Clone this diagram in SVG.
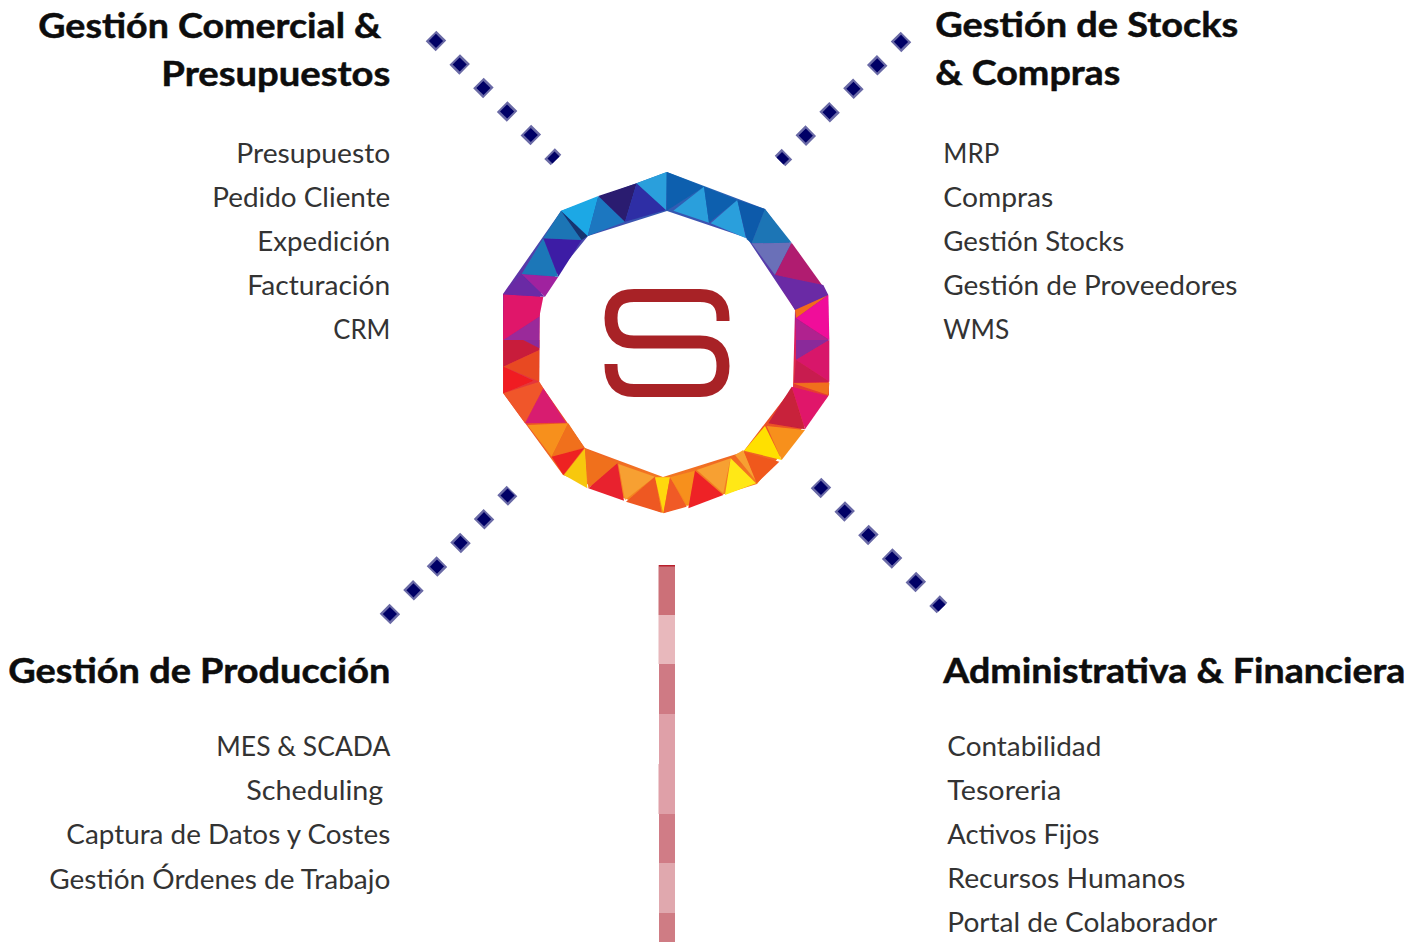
<svg xmlns="http://www.w3.org/2000/svg" width="1424" height="942" viewBox="0 0 1424 942">
<style>
text{font-family:"Lato","Liberation Sans",sans-serif;fill:#333}
.i{font-size:27px;font-weight:400}
.h{font-size:35px;font-weight:700;fill:#0d0d0d;stroke:#0d0d0d;stroke-width:.5}
.d1{fill:none;stroke:#6a6aa6;stroke-width:15;stroke-dasharray:14 19.4}
.d2{fill:none;stroke:#000066;stroke-width:10;stroke-dasharray:10 23.4;stroke-dashoffset:-2}
</style>
<defs>
<linearGradient id="ringFill" gradientUnits="userSpaceOnUse" x1="0" y1="172" x2="0" y2="513">
<stop offset="0" stop-color="#1a70b8"/><stop offset=".35" stop-color="#6a2aa5"/><stop offset=".47" stop-color="#d8186a"/><stop offset=".67" stop-color="#e8402a"/><stop offset="1" stop-color="#f7901e"/>
</linearGradient>
<filter id="soft" x="-5%" y="-5%" width="110%" height="110%"><feGaussianBlur stdDeviation=".6"/></filter>
<filter id="softDots" x="-10%" y="-10%" width="120%" height="120%"><feGaussianBlur stdDeviation=".5"/></filter>
</defs>
<rect width="1424" height="942" fill="#fff"/>
<g id="connectors">
<g filter="url(#softDots)">
<path class="d1" d="M431 36L556 160"/><path class="d2" d="M431 36L556 160"/>
<path class="d1" d="M906 37L780 161"/><path class="d2" d="M906 37L780 161"/>
<path class="d1" d="M385 619L512 491"/><path class="d2" d="M385 619L512 491"/>
<path class="d1" d="M816 483L942 608"/><path class="d2" d="M816 483L942 608"/>
</g>
<g id="vertical-bar">
<rect x="658.500" y="565" width="16.500" height="50" fill="#cc7078"/>
<rect x="658.500" y="615" width="16.500" height="49" fill="#e8b8bc"/>
<rect x="659" y="664" width="16" height="50" fill="#cf7a84"/>
<rect x="659" y="714" width="16" height="50" fill="#dfa0a8"/>
<rect x="658.500" y="764" width="16.500" height="50" fill="#dfa0a8"/>
<rect x="659" y="814" width="16" height="49" fill="#d07c86"/>
<rect x="659" y="863" width="16" height="50" fill="#e0a8ae"/>
<rect x="659" y="913" width="16" height="29" fill="#cf7c84"/>
<rect x="659" y="565" width="16" height="1.500" fill="#b8202c"/>
</g>
</g>
<g id="logo">
<g filter="url(#soft)">
<path fill-rule="evenodd" fill="url(#ringFill)" d="M667 172L765 209L828 295L829 395L757 484L663 513L563 475L503 393L503 294L561 211ZM667 211L588 236L540 295L539 382L585 448L663 477L743 452L793 387L795 310L747 238Z"/>
<g transform="translate(490 160) scale(.33333)">
<polygon points="40,403 160,410 148,470 40,540" fill="#e0156b"/>
<polygon points="40,540 148,470 148,540" fill="#9a2a9a"/>
<polygon points="40,403 95,342 165,410" fill="#6a2aa5"/>
<polygon points="95,342 205,350 165,410" fill="#a0229f"/>
<polygon points="95,342 160,235 205,350" fill="#1f77b8"/>
<polygon points="160,235 275,240 205,350" fill="#3d1fa5"/>
<polygon points="213,152 275,240 160,235" fill="#1b75b5"/>
<polygon points="213,152 293,228 275,240" fill="#12356f"/>
<polygon points="213,152 325,108 293,228" fill="#1aa8e5"/>
<polygon points="325,108 405,185 293,228" fill="#1b77c0"/>
<polygon points="325,108 440,70 405,185" fill="#2a1a70"/>
<polygon points="440,70 528,150 405,185" fill="#2f2da5"/>
<polygon points="440,70 530,36 528,150" fill="#2a9fdc"/>
<polygon points="530,36 642,80 530,152" fill="#0f5fae"/>
<polygon points="642,80 550,152 657,188" fill="#2a9fdc"/>
<polygon points="642,80 742,120 657,188" fill="#0f5fae"/>
<polygon points="742,120 662,190 768,235" fill="#2a9fdc"/>
<polygon points="742,120 825,147 785,250 770,238" fill="#0f5aaa"/>
<polygon points="825,147 905,248 785,250" fill="#1b75b5"/>
<polygon points="785,250 905,248 855,345" fill="#6a6fb8"/>
<polygon points="905,248 1000,380 855,345" fill="#b01f6f"/>
<polygon points="855,345 1000,375 1015,405 915,450" fill="#6a2aa5"/>
<polygon points="1015,405 915,450 918,475" fill="#f26a1f"/>
<polygon points="1015,405 1018,540 918,475" fill="#f0099a"/>
<polygon points="918,475 1018,540 918,540" fill="#b0208f"/>
</g>
<g transform="translate(490 340) scale(.33333)">
<polygon points="40,0 148,0 148,30 40,80" fill="#c81f3a"/>
<polygon points="100,0 148,0 148,25" fill="#8a2a9a"/>
<polygon points="40,80 148,30 148,125" fill="#e84a20"/>
<polygon points="40,80 130,122 40,160" fill="#f01a20"/>
<polygon points="40,160 148,125 160,145 105,250" fill="#f0562a"/>
<polygon points="160,145 228,248 105,250" fill="#d81f70"/>
<polygon points="112,255 235,250 185,350" fill="#f7901e"/>
<polygon points="235,250 282,322 185,350" fill="#f0701f"/>
<polygon points="185,350 282,325 220,405" fill="#ee2020"/>
<polygon points="285,325 222,405 292,445" fill="#f7c810"/>
<polygon points="285,325 382,370 295,445" fill="#f0701f"/>
<polygon points="382,370 295,445 402,482" fill="#e8202f"/>
<polygon points="385,372 495,410 405,480" fill="#f7a030"/>
<polygon points="495,410 408,485 515,518" fill="#ee5820"/>
<polygon points="495,412 540,412 520,520" fill="#ffd810"/>
<polygon points="540,412 520,520 590,500" fill="#f05a25"/>
<polygon points="540,412 615,392 595,500" fill="#f7901e"/>
<polygon points="615,392 595,505 700,465" fill="#ee2028"/>
<polygon points="620,390 722,355 700,460" fill="#f7a030"/>
<polygon points="722,355 705,465 798,430" fill="#ffe812"/>
<polygon points="735,345 760,330 800,425" fill="#f7a030"/>
<polygon points="762,335 868,365 800,430" fill="#f0581f"/>
<polygon points="825,258 875,360 762,332" fill="#ffe000"/>
<polygon points="830,258 945,270 875,360" fill="#f7901e"/>
<polygon points="905,140 835,250 945,268" fill="#c8203a"/>
<polygon points="905,140 1015,168 945,268" fill="#e0186a"/>
<polygon points="908,130 1018,128 1015,165" fill="#f0701f"/>
<polygon points="918,0 1018,0 918,60" fill="#8a2a9a"/>
<polygon points="1018,0 1018,125 918,60" fill="#d8186a"/>
<polygon points="918,60 1018,125 912,128" fill="#c81a50"/>
</g>
<path d="M723 321V318Q723 295.500 700 295.500H634Q611 295.500 611 318Q611 342 634 342H700Q723 342 723 366Q723 390.500 700 390.500H634Q611 390.500 611 365V364" fill="none" stroke="#a82228" stroke-width="13"/>
</g>
</g>
<g id="node-comercial" transform="translate(-.7 0)">
<text class="h" x="39" y="38" textLength="343" lengthAdjust="spacingAndGlyphs">Gestión Comercial &amp;</text>
<text class="h" x="162" y="86" textLength="229" lengthAdjust="spacingAndGlyphs">Presupuestos</text>
<text class="i" x="237" y="163" textLength="154" lengthAdjust="spacingAndGlyphs">Presupuesto</text>
<text class="i" x="213" y="207" textLength="178" lengthAdjust="spacingAndGlyphs">Pedido Cliente</text>
<text class="i" x="258" y="251" textLength="133" lengthAdjust="spacingAndGlyphs">Expedición</text>
<text class="i" x="248" y="295" textLength="143" lengthAdjust="spacingAndGlyphs">Facturación</text>
<text class="i" x="334" y="339" textLength="57" lengthAdjust="spacingAndGlyphs">CRM</text>
</g>
<g id="node-stocks" transform="translate(-.7 0)">
<text class="h" x="936" y="37" textLength="303" lengthAdjust="spacingAndGlyphs">Gestión de Stocks</text>
<text class="h" x="936" y="85" textLength="185" lengthAdjust="spacingAndGlyphs">&amp; Compras</text>
<text class="i" x="944" y="163" textLength="56" lengthAdjust="spacingAndGlyphs">MRP</text>
<text class="i" x="944" y="207" textLength="110" lengthAdjust="spacingAndGlyphs">Compras</text>
<text class="i" x="944" y="251" textLength="181" lengthAdjust="spacingAndGlyphs">Gestión Stocks</text>
<text class="i" x="944" y="295" textLength="294" lengthAdjust="spacingAndGlyphs">Gestión de Proveedores</text>
<text class="i" x="944" y="339" textLength="66" lengthAdjust="spacingAndGlyphs">WMS</text>
</g>
<g id="node-produccion" transform="translate(-.7 0)">
<text class="h" x="9" y="683" textLength="382" lengthAdjust="spacingAndGlyphs">Gestión de Producción</text>
<text class="i" x="217" y="756" textLength="174" lengthAdjust="spacingAndGlyphs">MES &amp; SCADA</text>
<text class="i" x="247" y="800" textLength="137" lengthAdjust="spacingAndGlyphs">Scheduling</text>
<text class="i" x="67" y="844" textLength="324" lengthAdjust="spacingAndGlyphs">Captura de Datos y Costes</text>
<text class="i" x="50" y="889" textLength="341" lengthAdjust="spacingAndGlyphs">Gestión Órdenes de Trabajo</text>
</g>
<g id="node-financiera" transform="translate(-.7 0)">
<text class="h" x="944" y="683" textLength="462" lengthAdjust="spacingAndGlyphs">Administrativa &amp; Financiera</text>
<text class="i" x="948" y="756" textLength="154" lengthAdjust="spacingAndGlyphs">Contabilidad</text>
<text class="i" x="948" y="800" textLength="114" lengthAdjust="spacingAndGlyphs">Tesoreria</text>
<text class="i" x="948" y="844" textLength="152" lengthAdjust="spacingAndGlyphs">Activos Fijos</text>
<text class="i" x="948" y="888" textLength="238" lengthAdjust="spacingAndGlyphs">Recursos Humanos</text>
<text class="i" x="948" y="932" textLength="270" lengthAdjust="spacingAndGlyphs">Portal de Colaborador</text>
</g>
</svg>
